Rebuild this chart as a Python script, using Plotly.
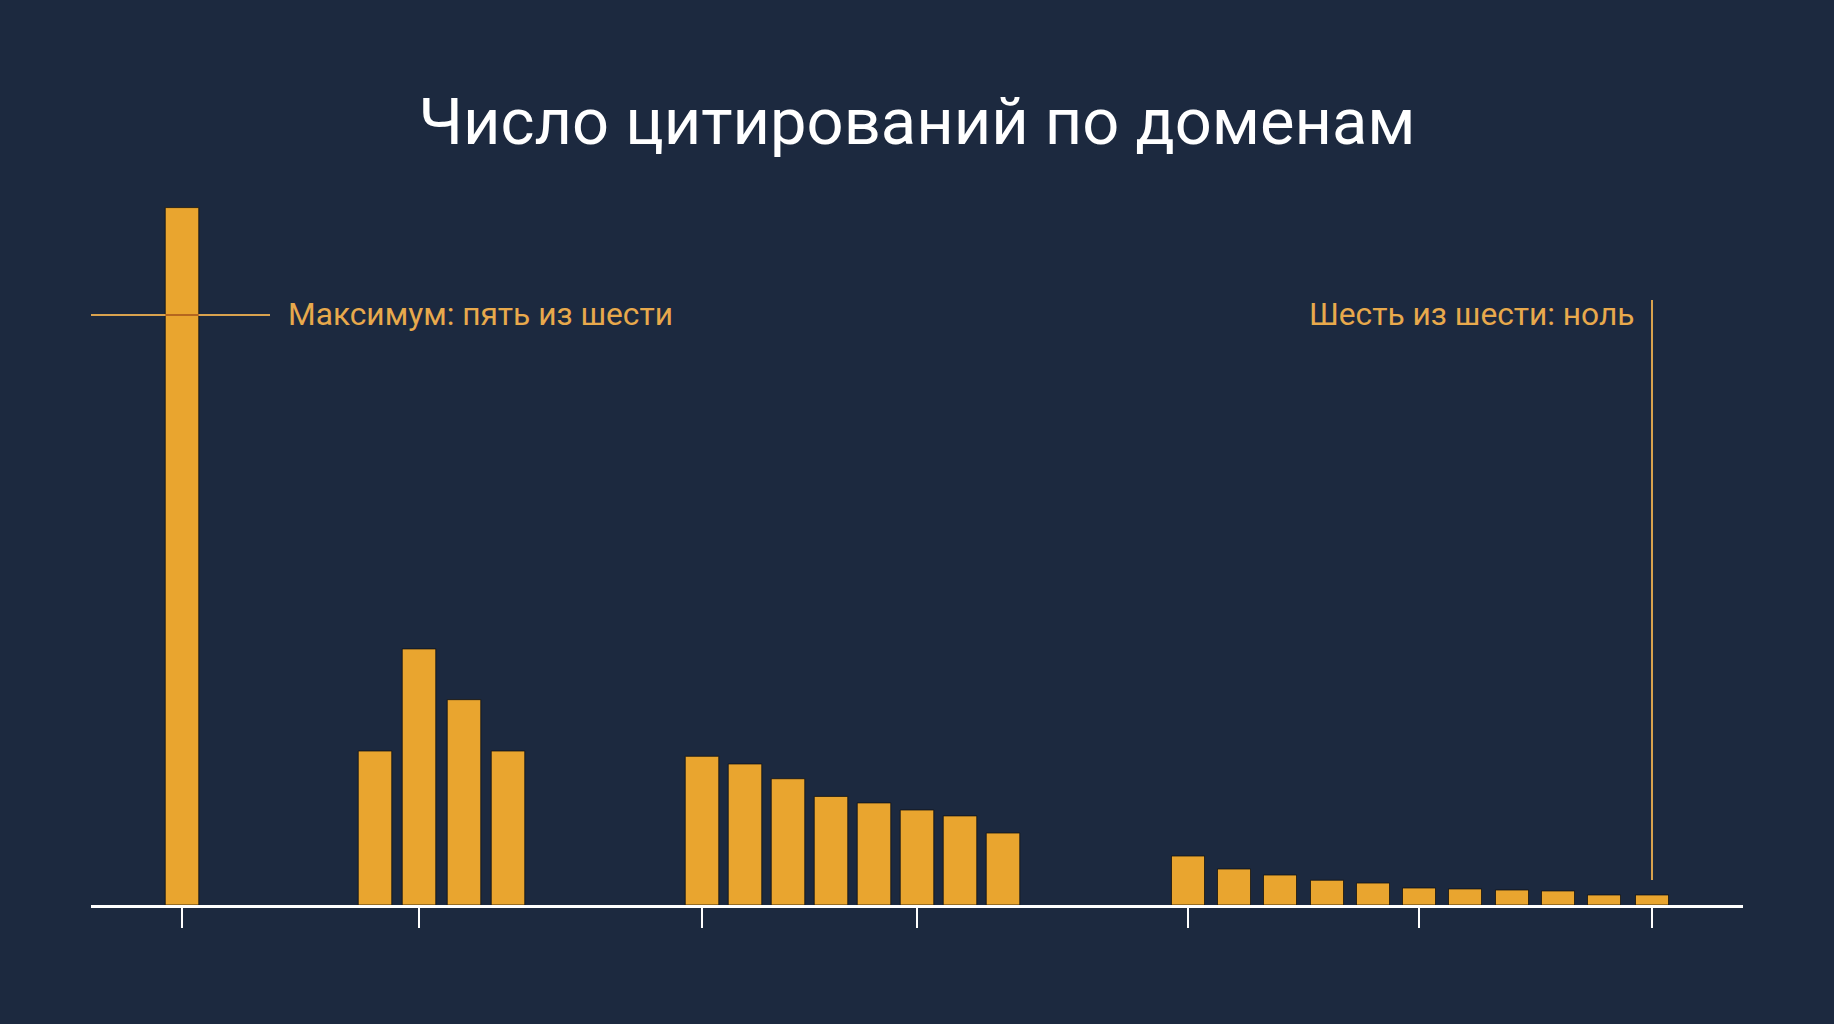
import plotly.graph_objects as go

# ---- data ----
# x positions in arbitrary axis units, grouped
g1_x = [9.1]
g1_y = [5.91]
g2_x = [28.4, 32.8, 37.3, 41.7]
g2_y = [1.305, 2.17, 1.74, 1.305]
g3_x = [61.1, 65.4, 69.7, 74.0, 78.3, 82.6, 86.9, 91.2]
g3_y = [1.26, 1.195, 1.07, 0.92, 0.865, 0.805, 0.755, 0.61]
g4_x = [109.7, 114.3, 118.9, 123.6, 128.2, 132.8, 137.4, 142.1, 146.7, 151.3, 156.1]
g4_y = [0.415, 0.305, 0.254, 0.21, 0.186, 0.144, 0.136, 0.127, 0.119, 0.085, 0.085]

tick_vals = [9.1, 32.8, 61.1, 82.6, 109.7, 132.8, 156.1]

max_level = 5.0
title_text = "Число цитирований по доменам"
note_left = "Максимум: пять из шести"
note_right = "Шесть из шести: ноль"

BG = "#1c293f"
BAR = "#e9a52f"
NOTE = "#e8a94c"

x_all = g1_x + g2_x + g3_x + g4_x
y_all = g1_y + g2_y + g3_y + g4_y
w_all = [3.35] * (len(g1_x) + len(g2_x) + len(g3_x)) + [3.3] * len(g4_x)

fig = go.Figure()
fig.add_trace(go.Bar(
    x=x_all, y=y_all, width=w_all,
    marker=dict(color=BAR, line=dict(color="rgba(15,15,15,0.75)", width=1)),
    hoverinfo="skip",
))

# horizontal "maximum" line
fig.add_shape(type="line", xref="x", yref="y",
              x0=0, x1=17.9, y0=max_level, y1=max_level,
              line=dict(color="#d9a24e", width=2), layer="above")
# darker crossing over the first bar
fig.add_shape(type="line", xref="x", yref="y",
              x0=g1_x[0] - w_all[0] / 2, x1=g1_x[0] + w_all[0] / 2,
              y0=max_level, y1=max_level,
              line=dict(color="#b4661f", width=2), layer="above")
# vertical pointer to the last bar
fig.add_shape(type="line", xref="x", yref="y",
              x0=tick_vals[-1], x1=tick_vals[-1],
              y0=g4_y[-1] + 0.127, y1=max_level + 0.127,
              line=dict(color="#d9a24e", width=2), layer="above")

fig.add_annotation(x=19.5, y=max_level, xref="x", yref="y",
                   text=note_left, showarrow=False,
                   xanchor="left", yanchor="middle",
                   font=dict(family="Roboto", size=31.7, color=NOTE))
fig.add_annotation(x=154.5, y=max_level, xref="x", yref="y",
                   text=note_right, showarrow=False,
                   xanchor="right", yanchor="middle",
                   font=dict(family="Roboto", size=31.7, color=NOTE))

fig.update_layout(
    width=1834, height=1024,
    paper_bgcolor=BG, plot_bgcolor=BG,
    margin=dict(l=91, r=91, t=150, b=119, pad=0),
    showlegend=False,
    title=dict(text=title_text, x=0.5, xanchor="center",
               y=0.882, yanchor="middle", xref="container", yref="container",
               font=dict(family="Roboto", size=65, color="#ffffff")),
    xaxis=dict(range=[0, 165.2], showgrid=False, zeroline=False,
               showline=True, linecolor="#ffffff", linewidth=2.5,
               tickmode="array", tickvals=tick_vals, ticktext=[""] * len(tick_vals),
               ticks="outside", ticklen=20, tickwidth=2, tickcolor="#ffffff",
               fixedrange=True),
    yaxis=dict(range=[0, 6.398], showgrid=False, zeroline=False,
               showline=False, showticklabels=False, ticks="",
               fixedrange=True),
)

fig.write_html("out.html", config={"displayModeBar": False},
               post_script="document.body.style.margin='0';document.body.style.background='%s';" % BG)
